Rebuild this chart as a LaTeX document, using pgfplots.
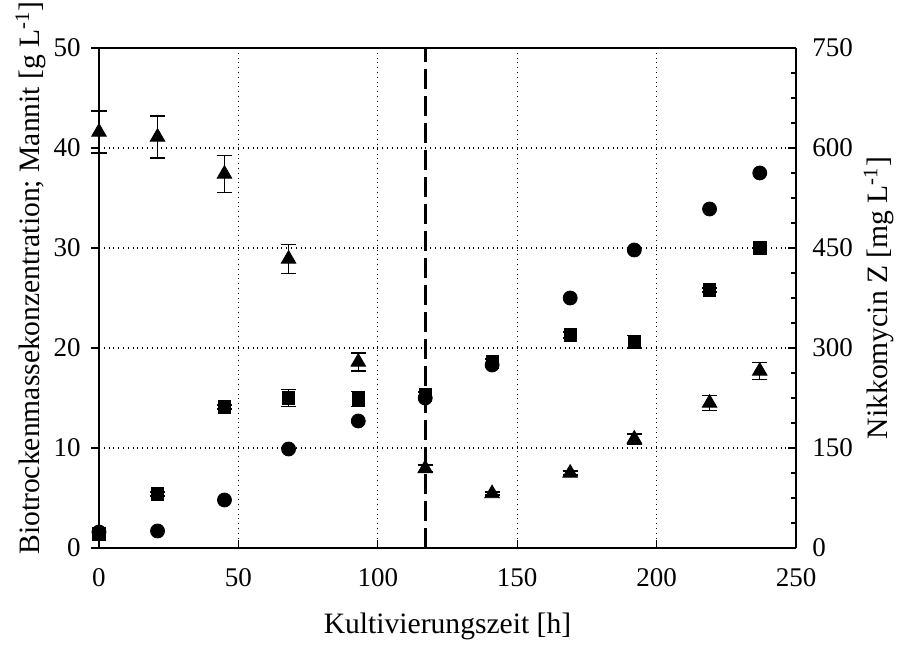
\documentclass[border=0pt]{standalone}
\usepackage{fontspec}
\setmainfont{Liberation Serif}
\usepackage{pgfplots}
\pgfplotsset{compat=1.18}
\begin{document}
\fontsize{14.8}{17}\selectfont
\begin{tikzpicture}
\useasboundingbox (-49.5pt,-49pt) rectangle (400.5pt,274pt);
\pgfplotsset{every axis/.append style={
  scale only axis, width=348.5pt, height=250pt,
  /pgf/number format/assume math mode=true,
  tick label style={font=\fontsize{13.5}{16}\selectfont},
  label style={font=\fontsize{14.8}{17}\selectfont},
  axis line style={line width=0.6pt}, tick style={line width=0.6pt, black},
}}
\begin{axis}[
  xmin=0, xmax=250, ymin=0, ymax=50,
  axis y line*=left, axis x line*=bottom,
  xtick={0,50,...,250}, ytick={0,10,...,50},
  grid=major, grid style={dotted, black, line width=0.6pt},
  xlabel={Kultivierungszeit [h]},
  ylabel={Biotrockenmassekonzentration; Mannit [g L\textsuperscript{-1}]},
  xtick align=inside, ytick align=outside,
  major tick length=4pt,
  xticklabel style={yshift=-5pt},
  xlabel style={at={(axis description cs:0.5,-0.156)}, anchor=center},
  ylabel style={at={(axis description cs:-0.098,0.54)}, anchor=center},
  clip=false,
]
\addplot[black, line width=1.4pt, dash pattern=on 10pt off 3.5pt] coordinates {(117,0) (117,50)};
% Mannit (triangles)
\addplot[only marks, mark=triangle*, mark size=4.2pt, black,
  error bars/.cd, y dir=both, y explicit,
  error bar style={line width=0.6pt, black},
  error mark options={rotate=90, mark size=3.8pt, line width=0.6pt, black}]
coordinates {
(0,41.6) +- (0,2.1)
(21,41.1) +- (0,2.1)
(45,37.4) +- (0,1.85)
(68,28.9) +- (0,1.45)
(93,18.6) +- (0,0.9)
(117,7.95) +- (0,0.35)
(141,5.45) +- (0,0.15)
(169,7.5) +- (0,0.2)
(192,10.9) +- (0,0.5)
(219,14.5) +- (0,0.75)
(237,17.7) +- (0,0.85)
};
% Biomass (squares)
\addplot[only marks, mark=square*, mark size=3.1pt, black,
  error bars/.cd, y dir=both, y explicit,
  error bar style={line width=0.6pt, black},
  error mark options={rotate=90, mark size=3.6pt, line width=0.6pt, black}]
coordinates {
(0,1.4) +- (0,0.2)
(21,5.4) +- (0,0.2)
(45,14.1) +- (0,0.2)
(68,15.0) +- (0,0.85)
(93,14.9) +- (0,0.75)
(117,15.3) +- (0,0.3)
(141,18.6) +- (0,0.3)
(169,21.3) +- (0,0.3)
(192,20.6) +- (0,0.65)
(219,25.8) +- (0,0.2)
(237,30.0) +- (0,0.2)
};
% Nikkomycin (circles), in left-axis units (x15 = mg/L)
\addplot[only marks, mark=*, mark size=3.5pt, black] coordinates {
(0,1.6) (21,1.7) (45,4.8) (68,9.9) (93,12.7) (117,15.0) (141,18.3)
(169,25.0) (192,29.8) (219,33.9) (237,37.5)
};
\end{axis}
\begin{axis}[
  xmin=0, xmax=250, ymin=0, ymax=750,
  axis y line*=right, axis x line*=top,
  xtick=\empty, ytick={0,150,...,750},
  minor ytick={37.5,75,...,712.5},
  ytick align=inside, major tick length=4pt, minor tick length=2.5pt,
  yticklabel style={xshift=3pt},
  ylabel={Nikkomycin Z [mg L\textsuperscript{-1}]},
  ylabel style={at={(axis description cs:1.119,0.5)}, anchor=center},
]
\end{axis}
\end{tikzpicture}
\end{document}
